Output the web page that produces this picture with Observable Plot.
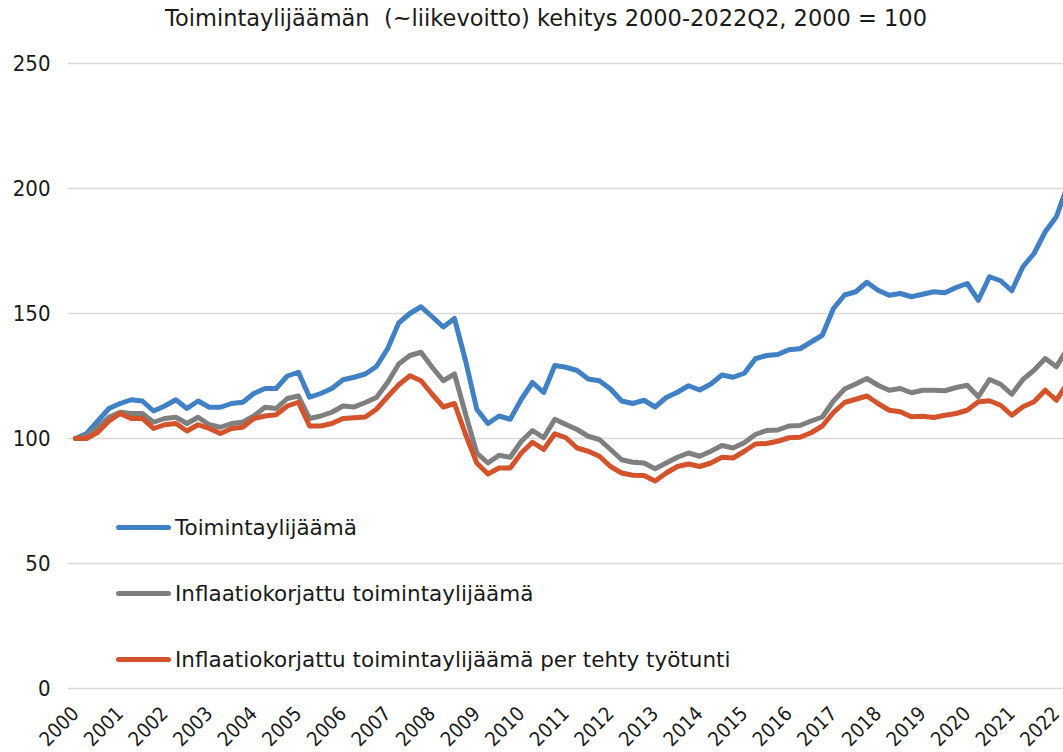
<!DOCTYPE html>
<html>
<head>
<meta charset="utf-8">
<script src="https://cdn.jsdelivr.net/npm/d3@7"></script>
<script src="https://cdn.jsdelivr.net/npm/@observablehq/plot@0.6"></script>
<style>
  html, body { margin: 0; padding: 0; background: #fff; }
  #wrap { position: relative; width: 1063px; height: 752px; overflow: hidden; font-family: "DejaVu Sans", sans-serif; }
  .leg { position: absolute; left: 116px; height: 24px; display: flex; align-items: center; font-size: 21.5px; color: #1a1a1a; white-space: nowrap; }
  .leg .sw { width: 55px; height: 5px; border-radius: 3px; margin-right: 4px; }
</style>
</head>
<body>
<div id="wrap"></div>
<script>
const title = "Toimintaylijäämän  (~liikevoitto) kehitys 2000-2022Q2, 2000 = 100";
const seriesNames = [
  "Toimintaylijäämä",
  "Inflaatiokorjattu toimintaylijäämä",
  "Inflaatiokorjattu toimintaylijäämä per tehty työtunti"
];
const seriesColors = ["#4080c5", "#7f7f7f", "#d4532b"];
const yearTicks = [2000,2001,2002,2003,2004,2005,2006,2007,2008,2009,2010,2011,2012,2013,2014,2015,2016,2017,2018,2019,2020,2021,2022];
const yTicks = [0, 50, 100, 150, 200, 250];
const startYear = 2000; // quarterly data, 2000Q1 .. 2022Q2

const toimintaylijaama = [
  100,102,107,112,114,115.5,115,111,113,115.5,112,115,112.5,112.5,114,114.5,
  118,120,120,125,126.5,116.5,118,120,123.5,124.5,125.8,128.8,135.9,146.2,150,152.7,
  148.7,144.6,148,131,111.7,106,109,107.7,115.7,122.4,118.4,129.2,128.5,127.2,123.8,123.1,
  119.8,115,114,115.3,112.6,116.4,118.5,121.1,119.4,121.8,125.4,124.5,126.1,131.9,133.2,133.6,
  135.5,135.9,138.6,141.3,152,157.4,158.7,162.5,159.3,157.3,158,156.7,157.7,158.7,158.3,160.4,
  162,155.3,164.7,163.1,159.1,168.7,174,182.7,188.7,201
];
const inflaatiokorjattu = [
  100,101,104.5,108.5,110.5,110,110,106.5,108,108.5,106,108.5,105.5,104.5,106,106.5,
  109,112.5,112,116,117,108,109,110.5,113,112.6,114.4,116.4,122.4,129.8,133.2,134.5,
  128.5,123.1,125.8,109.7,94.2,90.2,93.3,92.5,98.9,103.2,100.3,107.7,105.6,103.6,100.9,99.6,
  95.6,91.5,90.5,90.2,87.9,90.2,92.5,94.2,92.9,94.9,97.2,96.2,98.3,101.6,103.2,103.4,
  105,105.2,107,108.6,115,119.8,121.8,124,121.3,119.3,120,118.3,119.3,119.3,119.1,120.4,
  121.3,116.7,123.6,121.7,117.7,123.6,127.3,132,128.7,136
];
const perTyotunti = [
  100,100,102.5,107,110,108,108,104,105.5,106,103,105.5,104,102,104,104.5,
  108,109,109.5,113,114.5,105,105,106,108,108.3,108.6,111.7,116.7,121.5,125.1,123.1,
  117.7,112.6,114,101.6,90.2,85.8,88.2,88.2,94.2,98.5,95.6,101.9,100.3,96.2,94.9,92.9,
  88.8,86.2,85.3,85.2,83,86.2,88.8,89.8,88.8,90.2,92.5,92.2,94.9,97.8,98,98.9,
  100.3,100.5,102.3,105,110.4,114.4,115.7,117,114,111.3,110.7,108.7,108.9,108.4,109.3,110,
  111.3,114.7,115.1,113.3,109.3,112.7,114.7,119.3,115.3,122
];

const seriesValues = [toimintaylijaama, inflaatiokorjattu, perTyotunti];
const data = seriesValues.flatMap((vals, s) =>
  vals.map((v, i) => ({ t: startYear + i / 4, value: v, series: seriesNames[s] }))
);

const axisFont = "'DejaVu Sans Condensed', 'DejaVu Sans', sans-serif";

const chart = Plot.plot({
  width: 1063,
  height: 752,
  marginTop: 63,
  marginBottom: 64,
  marginLeft: 68,
  marginRight: 0,
  style: { fontFamily: axisFont, fontSize: "20px", color: "#1a1a1a", background: "#fff" },
  x: { domain: [1999.843, 2022.16], label: null },
  y: { domain: [0, 250], label: null },
  color: { domain: seriesNames, range: seriesColors },
  marks: [
    Plot.gridY(yTicks, { stroke: "#d9d9d9", strokeOpacity: 1, strokeWidth: 1.6 }),
    Plot.line(data, {
      x: "t", y: "value", z: "series", stroke: "series",
      strokeWidth: 5, strokeLinejoin: "round", strokeLinecap: "round", clip: true
    }),
    Plot.axisY(yTicks, { tickSize: 0, tickPadding: 18, fontSize: 22, tickFormat: d => String(d) }),
    Plot.axisX(yearTicks, { tickSize: 0, tickPadding: 22, tickRotate: -45, fontSize: 20, tickFormat: d => String(d) }),
    Plot.text([title], {
      frameAnchor: "top", lineAnchor: "top", dy: -53, dx: -20,
      fontSize: 22.5, fontFamily: "'DejaVu Sans', sans-serif", fill: "#1a1a1a"
    })
  ]
});

const wrap = document.getElementById("wrap");
wrap.appendChild(chart);

const legendY = [527, 593, 659];
seriesNames.forEach((name, k) => {
  const d = document.createElement("div");
  d.className = "leg";
  d.style.top = (legendY[k] - 12) + "px";
  const sw = document.createElement("div");
  sw.className = "sw";
  sw.style.background = seriesColors[k];
  const tx = document.createElement("span");
  tx.textContent = name;
  d.appendChild(sw);
  d.appendChild(tx);
  wrap.appendChild(d);
});
</script>
</body>
</html>
